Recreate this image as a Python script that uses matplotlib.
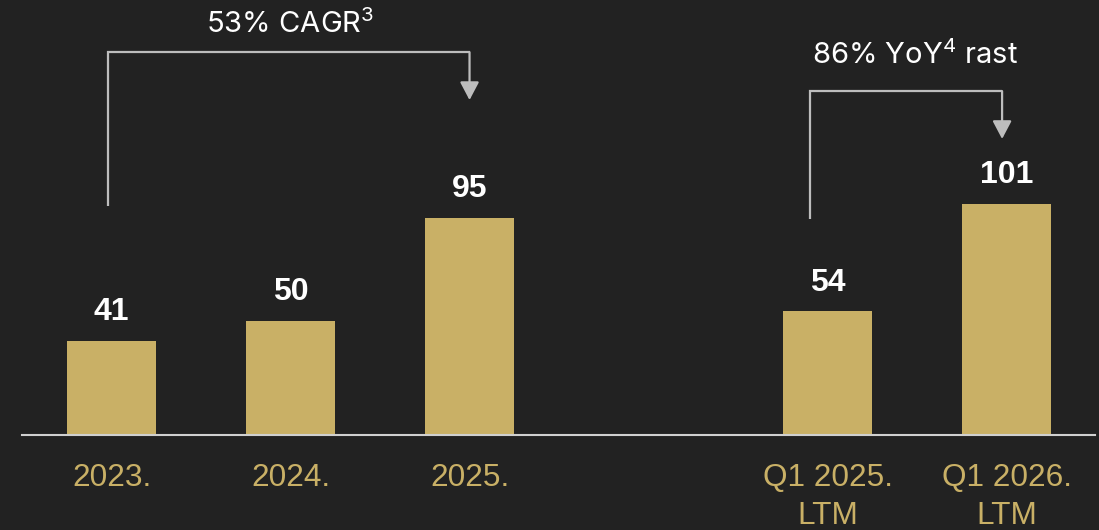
import matplotlib
matplotlib.use("Agg")
import matplotlib.pyplot as plt

categories = ["2023.", "2024.", "2025.", "Q1 2025.\nLTM", "Q1 2026.\nLTM"]
values = [41, 50, 95, 54, 101]
positions = [0, 1, 2, 4, 5]

cagr_label = "53% CAGR$^{3}$"
yoy_label = "86% YoY$^{4}$ rast"

BG = "#222222"
GOLD = "#C9B066"
GREY = "#BDBDBD"

plt.rcParams["mathtext.fontset"] = "custom"
plt.rcParams["mathtext.rm"] = "Inter"
plt.rcParams["mathtext.it"] = "Inter"
plt.rcParams["mathtext.default"] = "regular"

fig = plt.figure(figsize=(10.99, 5.30), dpi=100, facecolor=BG)
ax = fig.add_axes([22 / 1099, 1 - 435 / 530, (1095 - 22) / 1099, 435 / 530])
ax.set_facecolor(BG)

ax.bar(positions, values, width=0.5, color=GOLD, zorder=2)

for x, v in zip(positions, values):
    ax.annotate(str(v), xy=(x, v), xytext=(0, 15), textcoords="offset points",
                ha="center", va="baseline", color="white", fontsize=23,
                fontweight="bold", family=["Liberation Sans", "DejaVu Sans"])

ax.set_xlim(-0.5, 5.494)
ax.set_ylim(0, 190)

for s in ["top", "left", "right"]:
    ax.spines[s].set_visible(False)
ax.spines["bottom"].set_color("#D0D0D0")
ax.spines["bottom"].set_linewidth(1.5)
ax.spines["bottom"].set_zorder(3)

ax.set_yticks([])
ax.set_xticks(positions)
ax.set_xticklabels(categories, color=GOLD, fontsize=22.7, linespacing=1.35,
                   family=["Liberation Sans", "DejaVu Sans"])
ax.tick_params(axis="x", length=0, pad=20)


def bracket(x0, x1, y_low, y_top, y_tip, label, ty, tx):
    ax.plot([x0, x0, x1], [y_low, y_top, y_top], color=GREY, lw=1.6,
            solid_joinstyle="miter", solid_capstyle="butt", zorder=1)
    ax.annotate("", xy=(x1, y_tip), xytext=(x1, y_top),
                arrowprops=dict(arrowstyle="-|>,head_length=1.1,head_width=0.58",
                                mutation_scale=10, color=GREY, lw=1.6,
                                shrinkA=0, shrinkB=0))
    ax.text(tx, ty, label, ha="center", va="baseline", color="white",
            fontsize=21, family=["Inter", "DejaVu Sans"])


bracket(positions[0] - 0.02, positions[2], 100, 167.2, 146.3,
        cagr_label, 175.4, 0.997)
bracket(positions[3] - 0.098, positions[4] - 0.025, 94.3, 150.2, 129.3,
        yoy_label, 162.0, 4.49)

fig.savefig("out.png", dpi=100, facecolor=BG)
